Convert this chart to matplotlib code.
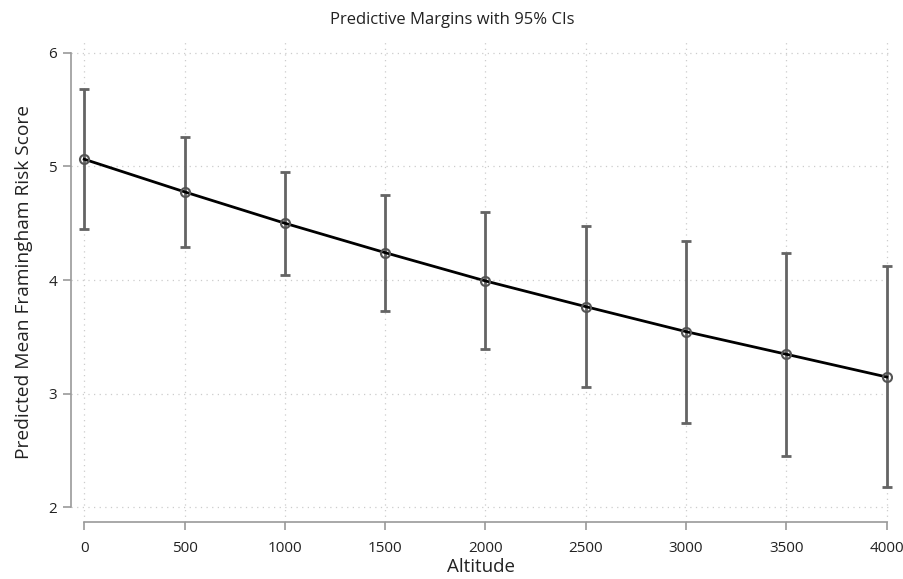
import matplotlib
matplotlib.use("Agg")
import matplotlib.pyplot as plt

altitude = [0, 500, 1000, 1500, 2000, 2500, 3000, 3500, 4000]
margin = [5.063, 4.776, 4.500, 4.241, 3.992, 3.766, 3.546, 3.347, 3.147]
ci_low = [4.453, 4.291, 4.042, 3.725, 3.393, 3.059, 2.745, 2.449, 2.176]
ci_high = [5.682, 5.262, 4.954, 4.749, 4.600, 4.476, 4.347, 4.236, 4.127]
xticks = [0, 500, 1000, 1500, 2000, 2500, 3000, 3500, 4000]
yticks = [2, 3, 4, 5, 6]

plt.rcParams['font.family'] = ['Open Sans', 'DejaVu Sans']

fig = plt.figure(figsize=(9.04, 5.79), dpi=100)
ax = fig.add_axes([0.0785, 0.0984, 0.9082, 0.829])

grid_c = '#cccccc'
for t in yticks:
    ax.axhline(t, color=grid_c, lw=0.9, ls=(0, (1, 3.5)), zorder=0)
for t in xticks:
    ax.axvline(t, color=grid_c, lw=0.9, ls=(0, (1, 3.5)), zorder=0)

yerr = [[m - l for m, l in zip(margin, ci_low)], [h - m for m, h in zip(margin, ci_high)]]
ax.errorbar(altitude, margin, yerr=yerr, fmt='none', ecolor='#646464', elinewidth=2.0,
            capsize=3.5, capthick=2.0, zorder=2)
ax.plot(altitude, margin, color='black', lw=2.0, zorder=3)
ax.plot(altitude, margin, ls='none', marker='o', ms=6.5, mfc='none', mec='#555555',
        mew=1.5, zorder=4)

ax.set_xlim(-66, 4026)
ax.set_ylim(1.871, 6.094)
ax.set_xticks(xticks)
ax.set_yticks(yticks)
ax.set_xticklabels([str(v) for v in xticks])
ax.set_yticklabels([str(v) for v in yticks])

for s in ['top', 'right']:
    ax.spines[s].set_visible(False)
ax.spines['left'].set_bounds(2, 6)
ax.spines['bottom'].set_bounds(0, 4000)
for s in ['left', 'bottom']:
    ax.spines[s].set_color('#999999')
    ax.spines[s].set_linewidth(1.2)
ax.tick_params(axis='both', colors='#999999', labelcolor='#222222', length=6,
               width=1.2, labelsize=11)
ax.tick_params(axis='x', pad=8)
ax.tick_params(axis='y', pad=4)

ax.set_xlabel('Altitude', fontsize=13.5, color='#222222', labelpad=1)
ax.set_ylabel('Predicted Mean Framingham Risk Score', fontsize=13.8, color='#222222', labelpad=11)
fig.text(0.5, 0.965, 'Predictive Margins with 95% CIs', ha='center', va='center',
         fontsize=12, color='#222222')

fig.savefig('out.png', dpi=100, facecolor='white')
